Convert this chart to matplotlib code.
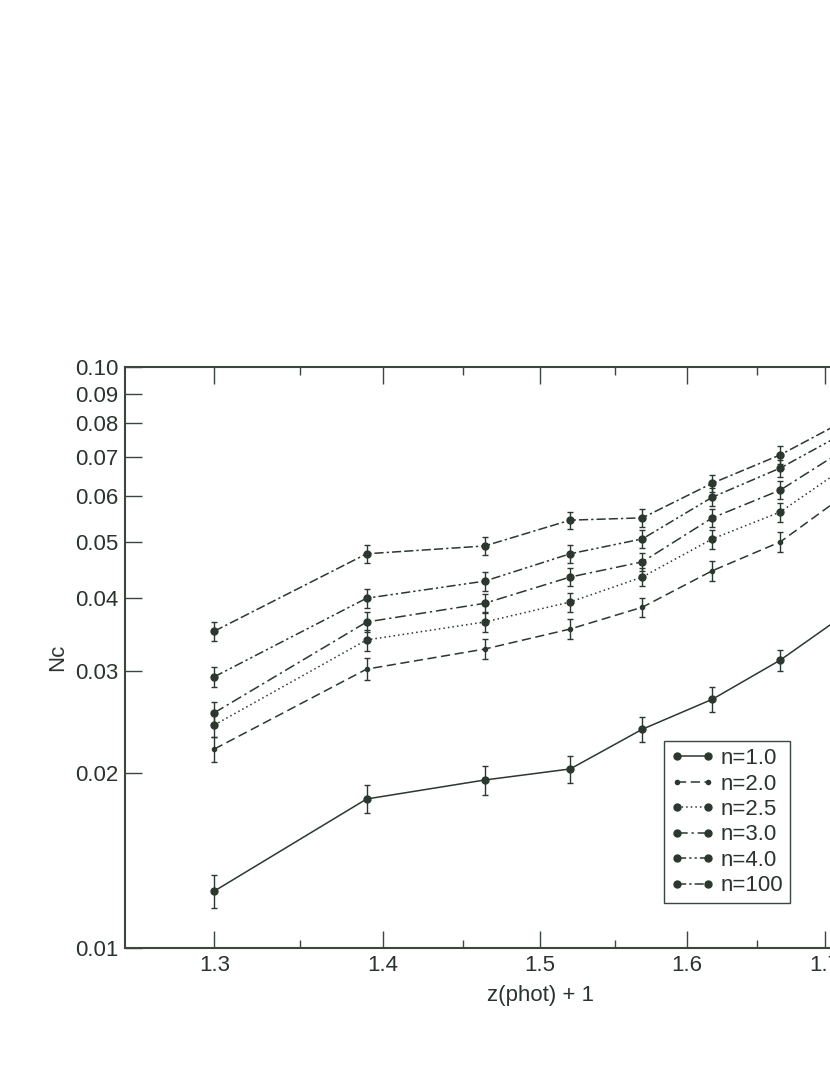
import numpy as np
import matplotlib
matplotlib.use("Agg")
import matplotlib.pyplot as plt
from matplotlib.lines import Line2D
from matplotlib.ticker import FixedLocator, NullLocator, NullFormatter

plt.rcParams['font.family'] = ['Liberation Sans', 'DejaVu Sans']

# redshift bins (z_phot + 1)
z1 = [1.300, 1.390, 1.464, 1.520, 1.569, 1.618, 1.667, 1.720]

labels = ['n=1.0', 'n=2.0', 'n=2.5', 'n=3.0', 'n=4.0', 'n=100']

nc_1 = [0.01253, 0.01805, 0.01946, 0.02033, 0.0238, 0.0268, 0.0313, 0.0382]
nc_2 = [0.0220, 0.0302, 0.0327, 0.0354, 0.0386, 0.0446, 0.0500, 0.0614]
nc_25 = [0.0242, 0.0339, 0.0364, 0.0394, 0.0435, 0.0506, 0.0563, 0.0684]
nc_3 = [0.0254, 0.0364, 0.0392, 0.0435, 0.0462, 0.0550, 0.0614, 0.0734]
nc_4 = [0.0293, 0.0400, 0.0428, 0.0477, 0.0506, 0.0597, 0.0670, 0.0782]
nc_100 = [0.0351, 0.0477, 0.0492, 0.0545, 0.0550, 0.0631, 0.0706, 0.0820]

err_1 = [0.0008, 0.0010, 0.0011, 0.0011, 0.0012, 0.0013, 0.0013, 0.0015]
err_2 = [0.0011, 0.0013, 0.0013, 0.0014, 0.0015, 0.0017, 0.0019, 0.0022]
err_25 = [0.0011, 0.0014, 0.0014, 0.0015, 0.0016, 0.0019, 0.0021, 0.0024]
err_3 = [0.0011, 0.0014, 0.0015, 0.0016, 0.0017, 0.0020, 0.0022, 0.0025]
err_4 = [0.0012, 0.0015, 0.0016, 0.0017, 0.0018, 0.0021, 0.0023, 0.0026]
err_100 = [0.0013, 0.0017, 0.0018, 0.0019, 0.0019, 0.0021, 0.0024, 0.0027]

series = [nc_1, nc_2, nc_25, nc_3, nc_4, nc_100]
errors = [err_1, err_2, err_25, err_3, err_4, err_100]
styles = ['-', (0, (6, 3)), (0, (1, 2)), (0, (7, 2.5, 1.5, 2.5)),
          (0, (6, 2, 1.5, 2, 1.5, 2)), (0, (6, 2, 1.5, 2, 6, 2))]
msizes = [5, 3, 5, 5, 5, 5]

col = '#2b3830'
axcol = '#3a473e'
txtcol = '#2b332e'

fig = plt.figure(figsize=(8.3, 10.75), dpi=100)
# axes run past the right edge, as in the cropped original
ax = fig.add_axes([125/830, 127/1075, 830/830, 581/1075])

handles = []
for y, e, ls, ms, lab in zip(series, errors, styles, msizes, labels):
    ax.errorbar(z1, y, yerr=e, color=col, ls=ls, lw=1.1, marker='o', ms=ms,
                elinewidth=1.0, capsize=2.5, capthick=1.0)
    handles.append(Line2D([], [], color=col, ls=ls, lw=1.1, marker='o',
                          ms=ms, label=lab))

ax.set_xscale('log')
ax.set_yscale('log')
ax.set_xlim(1.25, 1.80)
ax.set_ylim(0.01, 0.10)

ax.xaxis.set_major_locator(FixedLocator([1.3, 1.4, 1.5, 1.6, 1.7, 1.8]))
ax.xaxis.set_minor_locator(FixedLocator([1.35, 1.45, 1.55, 1.65, 1.75]))
ax.set_xticklabels(['1.3', '1.4', '1.5', '1.6', '1.7', '1.8'])
ax.xaxis.set_minor_formatter(NullFormatter())

yt = [0.01, 0.02, 0.03, 0.04, 0.05, 0.06, 0.07, 0.08, 0.09, 0.10]
ax.yaxis.set_major_locator(FixedLocator(yt))
ax.yaxis.set_minor_locator(NullLocator())
ax.set_yticklabels(['0.01', '0.02', '0.03', '0.04', '0.05', '0.06', '0.07',
                    '0.08', '0.09', '0.10'])

ax.tick_params(which='major', direction='in', length=12, width=1.0,
               top=True, right=True, labelsize=16, colors=axcol,
               labelcolor=txtcol, pad=5)
ax.tick_params(which='minor', direction='in', length=6, width=1.0,
               top=True, right=True, colors=axcol)
for s in ax.spines.values():
    s.set_linewidth(1.5)
    s.set_color(axcol)

ax.set_xlabel('z(phot) + 1', fontsize=16, color=txtcol)
ax.xaxis.set_label_coords((540 - 125) / 830, -(985 - 948) / 581)
ax.set_ylabel('Nc', fontsize=16, color=txtcol)
ax.yaxis.set_label_coords((68 - 125) / 830, 0.5)

leg = ax.legend(handles=handles, loc='lower left',
                bbox_to_anchor=(0.649, 0.0775), fontsize=16, numpoints=2,
                handlelength=2.0, handletextpad=0.25, labelspacing=0.2,
                borderpad=0.3, borderaxespad=0, fancybox=False,
                framealpha=1, edgecolor=axcol)
leg.get_frame().set_linewidth(1.0)
for t in leg.get_texts():
    t.set_color(txtcol)

fig.savefig('out.png', dpi=100)
